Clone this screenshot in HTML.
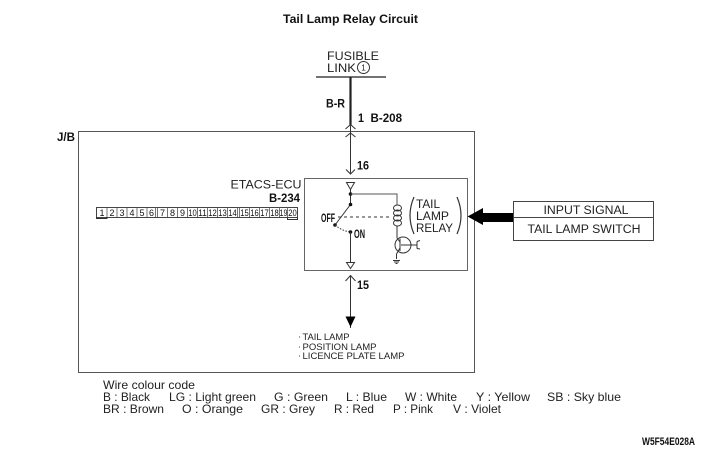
<!DOCTYPE html>
<html>
<head>
<meta charset="utf-8">
<style>
html,body{margin:0;padding:0;background:#fff;width:701px;height:450px;overflow:hidden}
svg{display:block}
text{font-family:"Liberation Sans",sans-serif;fill:#222}
.b{font-weight:bold;fill:#111}
.c{font-size:9px;text-anchor:middle;fill:#111}
</style>
</head>
<body>
<svg width="701" height="450" viewBox="0 0 701 450" xmlns="http://www.w3.org/2000/svg">
<text x="350.5" y="23" class="b" font-size="11.5" text-anchor="middle" textLength="135" lengthAdjust="spacingAndGlyphs">Tail Lamp Relay Circuit</text>

<text x="327" y="60" font-size="11.5" textLength="52" lengthAdjust="spacingAndGlyphs">FUSIBLE</text>
<text x="327" y="72" font-size="11.5" textLength="29" lengthAdjust="spacingAndGlyphs">LINK</text>
<circle cx="363.500" cy="67.500" r="6" fill="none" stroke="#333" stroke-width="1"/>
<text x="363.500" y="70.500" font-size="8" text-anchor="middle">1</text>
<line x1="316" y1="77" x2="386" y2="77" stroke="#444" stroke-width="1.500"/>
<line x1="350.500" y1="77" x2="350.500" y2="125" stroke="#222" stroke-width="2.200"/>
<text x="326" y="107.500" class="b" font-size="12" textLength="19" lengthAdjust="spacingAndGlyphs">B-R</text>
<text x="358" y="122" class="b" font-size="12" textLength="6" lengthAdjust="spacingAndGlyphs">1</text>
<text x="370.500" y="122" class="b" font-size="12" textLength="31.500" lengthAdjust="spacingAndGlyphs">B-208</text>

<text x="57" y="141" class="b" font-size="12" textLength="18" lengthAdjust="spacingAndGlyphs">J/B</text>
<rect x="78.500" y="131.500" width="396" height="241" fill="none" stroke="#555" stroke-width="1"/>

<path d="M345.500 129 L350.500 124.500 L355.500 129 M345.500 137 L350.500 133 L355.500 137" fill="none" stroke="#333" stroke-width="1"/>
<line x1="350.500" y1="125" x2="350.500" y2="174" stroke="#333" stroke-width="1"/>
<path d="M346 169.500 L350.500 174 L355 169.500" fill="none" stroke="#333" stroke-width="1"/>
<text x="357" y="169.500" class="b" font-size="12" textLength="12" lengthAdjust="spacingAndGlyphs">16</text>

<rect x="304.500" y="178.500" width="163" height="92" fill="none" stroke="#666" stroke-width="1"/>
<text x="230.500" y="188.500" font-size="11.500" textLength="71" lengthAdjust="spacingAndGlyphs">ETACS-ECU</text>
<text x="269" y="202" class="b" font-size="12" textLength="31" lengthAdjust="spacingAndGlyphs">B-234</text>

<!-- connector -->
<g>
<rect x="96.500" y="207.500" width="201" height="10" fill="#fff" stroke="#444" stroke-width="1"/>
<path d="M107 207v10M117 207v10M127 207v10M137 207v10M147 207v10M155.500 207v10M157.500 207v10M167.500 207v10M177.500 207v10M187.500 207v10M197.500 207v10M207.500 207v10M217.500 207v10M227.500 207v10M237.500 207v10M239.500 207v10M249.500 207v10M259.500 207v10M269.500 207v10M279.500 207v10M287.500 207v10" stroke="#555" stroke-width="0.800" fill="none"/>
<path d="M96.500 217V218.500H107V217M287.500 217V219.500H297.500V217" stroke="#333" stroke-width="1" fill="none"/>
<text x="102" y="216" class="c">1</text><text x="112" y="216" class="c">2</text><text x="122" y="216" class="c">3</text><text x="132" y="216" class="c">4</text><text x="142" y="216" class="c">5</text><text x="151.500" y="216" class="c">6</text>
<text x="162.500" y="216" class="c">7</text><text x="172.500" y="216" class="c">8</text><text x="182.500" y="216" class="c">9</text><text x="192.500" y="216" class="c" textLength="8.500" lengthAdjust="spacingAndGlyphs">10</text><text x="202.500" y="216" class="c" textLength="8.500" lengthAdjust="spacingAndGlyphs">11</text><text x="212.500" y="216" class="c" textLength="8.500" lengthAdjust="spacingAndGlyphs">12</text><text x="222.500" y="216" class="c" textLength="8.500" lengthAdjust="spacingAndGlyphs">13</text><text x="232.500" y="216" class="c" textLength="8.500" lengthAdjust="spacingAndGlyphs">14</text>
<text x="244.500" y="216" class="c" textLength="8.500" lengthAdjust="spacingAndGlyphs">15</text><text x="254.500" y="216" class="c" textLength="8.500" lengthAdjust="spacingAndGlyphs">16</text><text x="264.500" y="216" class="c" textLength="8.500" lengthAdjust="spacingAndGlyphs">17</text><text x="274.500" y="216" class="c" textLength="8.500" lengthAdjust="spacingAndGlyphs">18</text><text x="283.500" y="216" class="c" textLength="8" lengthAdjust="spacingAndGlyphs">19</text><text x="292.500" y="216" class="c" textLength="8.500" lengthAdjust="spacingAndGlyphs">20</text>
</g>

<!-- relay internals -->
<path d="M346.500 182.500H354.500L350.500 189.500Z" fill="#fff" stroke="#333" stroke-width="1"/>
<path d="M350.500 189.500V204.500L335 225" fill="none" stroke="#333" stroke-width="1"/>
<circle cx="350.500" cy="194" r="1.800" fill="#111"/>
<circle cx="350.500" cy="204.500" r="1.800" fill="#111"/>
<circle cx="335" cy="225" r="1.800" fill="#111"/>
<path d="M350.500 194H397V205" fill="none" stroke="#555" stroke-width="1"/>
<ellipse cx="397.500" cy="208" rx="4" ry="3" fill="none" stroke="#333" stroke-width="1"/>
<ellipse cx="397.500" cy="213" rx="4" ry="3" fill="none" stroke="#333" stroke-width="1"/>
<ellipse cx="397.500" cy="218" rx="4" ry="3" fill="none" stroke="#333" stroke-width="1"/>
<ellipse cx="397.500" cy="223" rx="4" ry="3" fill="none" stroke="#333" stroke-width="1"/>
<line x1="397" y1="226" x2="397" y2="238" stroke="#333" stroke-width="1"/>
<line x1="338" y1="217" x2="392" y2="217" stroke="#333" stroke-width="1" stroke-dasharray="3 3"/>
<path d="M335 225Q342 231 350.500 232" fill="none" stroke="#333" stroke-width="1" stroke-dasharray="1.500 1.500"/>
<circle cx="350.500" cy="232" r="1.800" fill="#111"/>
<line x1="350.500" y1="232" x2="350.500" y2="263" stroke="#333" stroke-width="1"/>
<path d="M346.500 262.500H354.500L350.500 268.500Z" fill="#fff" stroke="#333" stroke-width="1"/>
<text x="321" y="222" class="b" font-size="11.500" textLength="14" lengthAdjust="spacingAndGlyphs">OFF</text>
<text x="354" y="238" class="b" font-size="11.500" textLength="11" lengthAdjust="spacingAndGlyphs">ON</text>

<circle cx="403" cy="245" r="8" fill="none" stroke="#333" stroke-width="1"/>
<path d="M400 238.500V251M400 242L397 238M400 248L396.500 254V259M401 245H417M417 241.500V248.500M417 241.500L420 240.500M417 248.500L420 249" fill="none" stroke="#333" stroke-width="1"/>
<path d="M393 260.500H400M394 262H399M395.500 263.500H397.500" stroke="#333" stroke-width="1" fill="none"/>

<path d="M414 197Q406 215.500 414 234" fill="none" stroke="#333" stroke-width="1.200"/>
<path d="M457 197Q465 215.500 457 234" fill="none" stroke="#333" stroke-width="1.200"/>
<text x="416" y="208" font-size="11.500" textLength="24" lengthAdjust="spacingAndGlyphs">TAIL</text>
<text x="416" y="220" font-size="11.500" textLength="33" lengthAdjust="spacingAndGlyphs">LAMP</text>
<text x="416" y="232" font-size="11.500" textLength="37" lengthAdjust="spacingAndGlyphs">RELAY</text>

<!-- input arrow and box -->
<path d="M467.500 216.500L483 208V213H514V222H483V225Z" fill="#000"/>
<rect x="513.500" y="201.500" width="140" height="39" fill="#fff" stroke="#444" stroke-width="1"/>
<line x1="513.500" y1="217.500" x2="653.500" y2="217.500" stroke="#444" stroke-width="1"/>
<text x="586" y="214" font-size="11.500" text-anchor="middle" textLength="85" lengthAdjust="spacingAndGlyphs">INPUT SIGNAL</text>
<text x="584" y="233" font-size="11.500" text-anchor="middle" textLength="113" lengthAdjust="spacingAndGlyphs">TAIL LAMP SWITCH</text>

<!-- lower wire -->
<line x1="350.500" y1="276" x2="350.500" y2="328" stroke="#333" stroke-width="1"/>
<path d="M345.500 281L350.500 275.500L355.500 281" fill="none" stroke="#333" stroke-width="1"/>
<path d="M345.500 316.500H355.500L350.500 327Z" fill="#000"/>
<text x="357" y="289" class="b" font-size="12" textLength="12" lengthAdjust="spacingAndGlyphs">15</text>

<text x="298" y="339.500" font-size="9">·</text><text x="302.500" y="340" font-size="9.500" textLength="47" lengthAdjust="spacingAndGlyphs">TAIL LAMP</text>
<text x="298" y="349.500" font-size="9">·</text><text x="302.500" y="350" font-size="9.500" textLength="74" lengthAdjust="spacingAndGlyphs">POSITION LAMP</text>
<text x="298" y="358.500" font-size="9">·</text><text x="302.500" y="359" font-size="9.500" textLength="102" lengthAdjust="spacingAndGlyphs">LICENCE PLATE LAMP</text>

<!-- colour code -->
<text x="103" y="389" font-size="12" textLength="92" lengthAdjust="spacingAndGlyphs">Wire colour code</text>
<text x="103" y="401" font-size="12" textLength="47" lengthAdjust="spacingAndGlyphs">B : Black</text>
<text x="169" y="401" font-size="12" textLength="87" lengthAdjust="spacingAndGlyphs">LG : Light green</text>
<text x="274" y="401" font-size="12" textLength="54" lengthAdjust="spacingAndGlyphs">G : Green</text>
<text x="346" y="401" font-size="12" textLength="41" lengthAdjust="spacingAndGlyphs">L : Blue</text>
<text x="405" y="401" font-size="12" textLength="52" lengthAdjust="spacingAndGlyphs">W : White</text>
<text x="476" y="401" font-size="12" textLength="54" lengthAdjust="spacingAndGlyphs">Y : Yellow</text>
<text x="547" y="401" font-size="12" textLength="74" lengthAdjust="spacingAndGlyphs">SB : Sky blue</text>
<text x="103" y="413" font-size="12" textLength="61" lengthAdjust="spacingAndGlyphs">BR : Brown</text>
<text x="182" y="413" font-size="12" textLength="61" lengthAdjust="spacingAndGlyphs">O : Orange</text>
<text x="261" y="413" font-size="12" textLength="54" lengthAdjust="spacingAndGlyphs">GR : Grey</text>
<text x="334" y="413" font-size="12" textLength="40" lengthAdjust="spacingAndGlyphs">R : Red</text>
<text x="393" y="413" font-size="12" textLength="40" lengthAdjust="spacingAndGlyphs">P : Pink</text>
<text x="453" y="413" font-size="12" textLength="48" lengthAdjust="spacingAndGlyphs">V : Violet</text>

<text x="642" y="445" class="b" font-size="11" textLength="53" lengthAdjust="spacingAndGlyphs">W5F54E028A</text>
</svg>
</body>
</html>
